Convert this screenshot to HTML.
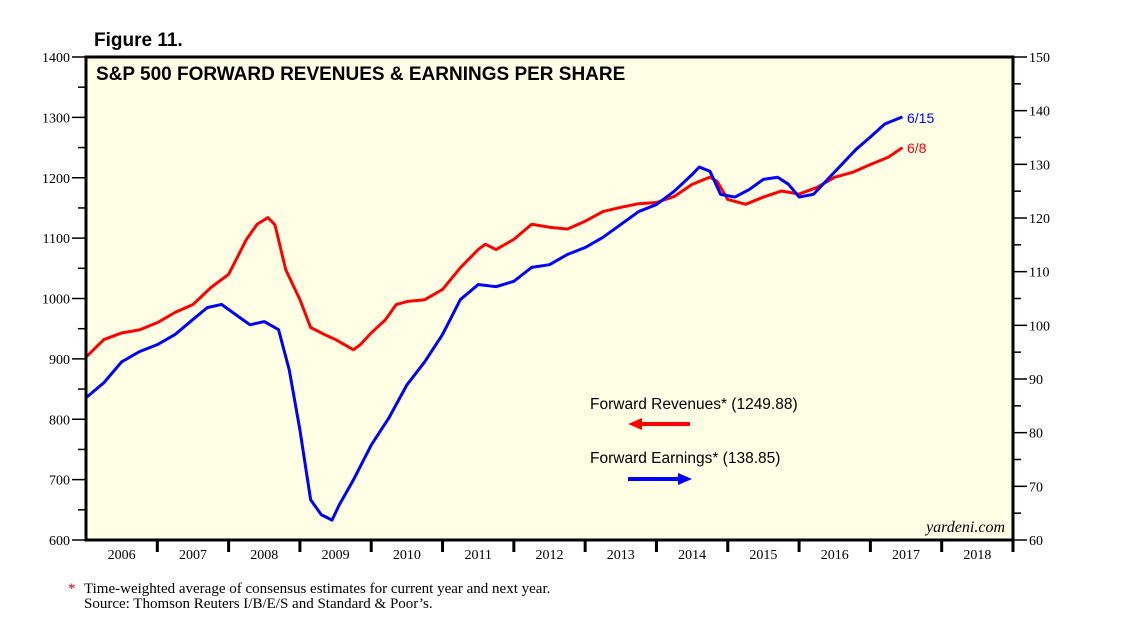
<!DOCTYPE html>
<html><head><meta charset="utf-8"><style>
body{margin:0;background:#fff;width:1138px;height:625px;overflow:hidden;font-family:"Liberation Serif",serif}
svg{display:block}
</style></head><body>
<svg id="chart" width="1138" height="625">
<rect x="86" y="57" width="927" height="483" fill="#ffffe6"/>
<g id="axes"></g>
<g id="series"></g>
<rect x="86" y="57" width="927" height="483" fill="none" stroke="#000" stroke-width="3"/>
<text x="94" y="46" font-family="Liberation Sans" font-weight="bold" font-size="19">Figure 11.</text>
<text x="96" y="80" font-family="Liberation Sans" font-weight="bold" font-size="19">S&amp;P 500 FORWARD REVENUES &amp; EARNINGS PER SHARE</text>
<text x="1005" y="532" text-anchor="end" font-style="italic" font-size="16">yardeni.com</text>
<text x="907" y="123" fill="#0000ff" font-family="Liberation Sans" font-size="14">6/15</text>
<text x="907" y="153" fill="#ff0000" font-family="Liberation Sans" font-size="14">6/8</text>
<text x="590" y="409" font-family="Liberation Sans" font-size="15.5">Forward Revenues* (1249.88)</text>
<g><line x1="640" y1="424" x2="690" y2="424" stroke="#ff0000" stroke-width="4"/><polygon points="628,424 642,418 642,430" fill="#ff0000"/></g>
<text x="590" y="463" font-family="Liberation Sans" font-size="15.5">Forward Earnings* (138.85)</text>
<g><line x1="628" y1="479" x2="680" y2="479" stroke="#0000ff" stroke-width="4"/><polygon points="692,479 678,473 678,485" fill="#0000ff"/></g>
<text x="68" y="593" fill="#c00" font-size="15">*</text>
<text x="84" y="593" font-size="15">Time-weighted average of consensus estimates for current year and next year.</text>
<text x="84" y="608" font-size="15">Source: Thomson Reuters I/B/E/S and Standard &amp; Poor’s.</text>
</svg>
<script>
const years=[2006,2007,2008,2009,2010,2011,2012,2013,2014,2015,2016,2017,2018];
const leftTicks=[600,700,800,900,1000,1100,1200,1300,1400];
const rightTicks=[60,70,80,90,100,110,120,130,140,150];
const revT=[2006.0,2006.25,2006.5,2006.75,2007.0,2007.25,2007.5,2007.75,2008.0,2008.25,2008.4,2008.55,2008.65,2008.8,2009.0,2009.15,2009.35,2009.5,2009.75,2009.85,2010.0,2010.2,2010.35,2010.5,2010.75,2011.0,2011.25,2011.5,2011.6,2011.75,2012.0,2012.25,2012.5,2012.75,2013.0,2013.25,2013.5,2013.75,2014.0,2014.25,2014.5,2014.75,2014.85,2015.0,2015.25,2015.5,2015.75,2016.0,2016.25,2016.5,2016.75,2017.0,2017.25,2017.45];
const revV=[903,932,943,948,960,977,990,1018,1040,1098,1123,1134,1122,1048,998,952,940,932,915,924,943,965,990,995,998,1015,1051,1081,1090,1081,1098,1123,1118,1115,1128,1144,1151,1157,1159,1169,1189,1201,1194,1164,1156,1168,1178,1173,1184,1201,1209,1222,1234,1250];
const epsT=[2006.0,2006.25,2006.5,2006.75,2007.0,2007.25,2007.5,2007.7,2007.9,2008.1,2008.3,2008.5,2008.7,2008.85,2009.0,2009.15,2009.3,2009.45,2009.55,2009.75,2010.0,2010.25,2010.5,2010.75,2011.0,2011.25,2011.5,2011.75,2012.0,2012.25,2012.5,2012.75,2013.0,2013.25,2013.5,2013.75,2014.0,2014.25,2014.5,2014.6,2014.75,2014.9,2015.1,2015.3,2015.5,2015.7,2015.85,2016.0,2016.2,2016.4,2016.6,2016.8,2017.0,2017.2,2017.45];
const epsV=[86.5,89.3,93.2,95.1,96.4,98.3,101.1,103.3,103.9,102,100.1,100.7,99.2,91.7,80.5,67.5,64.7,63.7,66.5,71.2,77.7,82.8,88.9,93.2,98.3,104.8,107.6,107.2,108.2,110.8,111.3,113.2,114.5,116.4,118.8,121.2,122.5,125,128.1,129.5,128.7,124.4,123.9,125.3,127.2,127.6,126.3,123.9,124.4,127.2,130,132.8,135.1,137.5,138.85];
const X0=86,X1=1013,Y0=540,Y1=57;
const x=t=>X0+(t-2006)/13*(X1-X0);
const yL=v=>Y0-(v-600)/800*(Y0-Y1);
const yR=v=>Y0-(v-60)/90*(Y0-Y1);
const NS="http://www.w3.org/2000/svg";
const ax=document.getElementById('axes'),se=document.getElementById('series');
function mk(tag,attrs,parent){const e=document.createElementNS(NS,tag);for(const k in attrs)e.setAttribute(k,attrs[k]);parent.appendChild(e);return e;}
leftTicks.forEach((v,i)=>{
  const t=mk('line',{x1:X0-14,x2:X0,y1:yL(v),y2:yL(v),stroke:'#000','stroke-width':1.5},ax);
  
  
  const l=mk('text',{x:X0-16,y:yL(v)+5,'text-anchor':'end','font-size':14},ax);l.textContent=v;
  
  
  if(i<leftTicks.length-1){const m=mk('line',{x1:X0-8,x2:X0,y1:yL(v+50),y2:yL(v+50),stroke:'#000','stroke-width':1.5},ax);
  
  }
});
rightTicks.forEach((v,i)=>{
  const t=mk('line',{x1:X1,x2:X1+14,y1:yR(v),y2:yR(v),stroke:'#000','stroke-width':1.5},ax);
  
  
  const l=mk('text',{x:X1+16,y:yR(v)+5,'font-size':14},ax);l.textContent=v;
  
  
  if(i<rightTicks.length-1){const m=mk('line',{x1:X1,x2:X1+8,y1:yR(v+5),y2:yR(v+5),stroke:'#000','stroke-width':1.5},ax);
  
  }
});
years.forEach(yr=>{
  const t=mk('line',{x1:x(yr+1),x2:x(yr+1),y1:Y0,y2:Y0+12,stroke:'#000','stroke-width':3},ax);
  
  
  const l=mk('text',{x:x(yr+0.5),y:Y0+19,'text-anchor':'middle','font-size':14},ax);l.textContent=yr;
  
  
});
const rp=mk('polyline',{points:revT.map((t,i)=>x(t)+','+yL(revV[i])).join(' '),fill:'none',stroke:'#ff0000','stroke-width':3,'stroke-linejoin':'round'},se);


const ep=mk('polyline',{points:epsT.map((t,i)=>x(t)+','+yR(epsV[i])).join(' '),fill:'none',stroke:'#0000ff','stroke-width':3,'stroke-linejoin':'round'},se);


</script>
</body></html>
